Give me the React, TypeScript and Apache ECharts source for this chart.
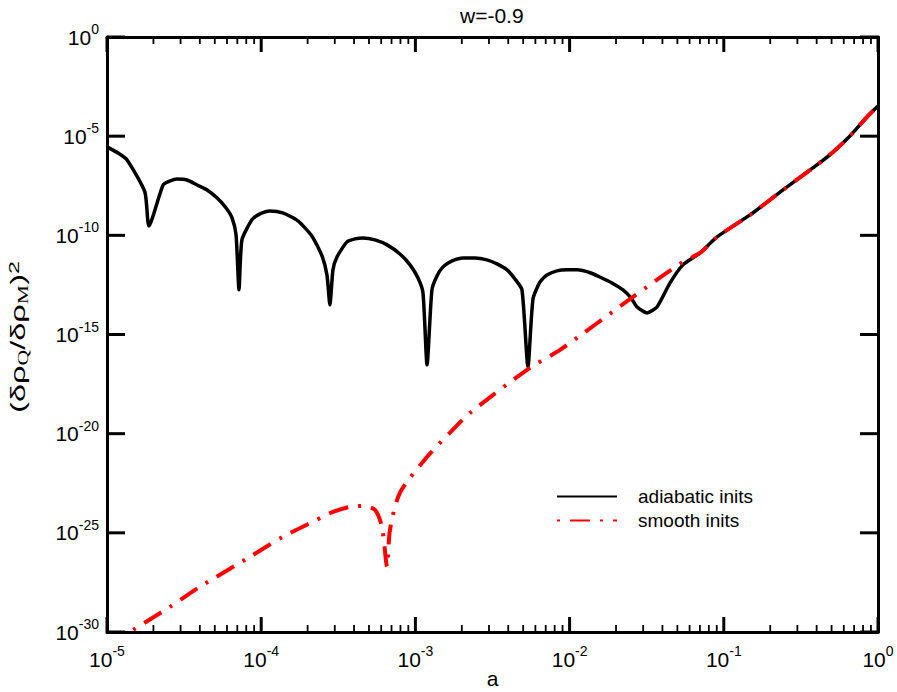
import React, { useEffect, useRef } from 'react';
import * as echarts from 'echarts';

// adiabatic initial conditions: scale factor a and (δρQ/δρM)^2
const adiabaticA = [
  1.0e-5, 1.18e-5, 1.35e-5, 1.76e-5, 1.87e-5, 2.31e-5, 2.56e-5, 2.84e-5, 3.3e-5, 3.84e-5,
  4.46e-5, 5.16e-5, 5.92e-5, 6.47e-5, 6.87e-5, 7.18e-5, 7.5e-5, 8.71e-5, 9.82e-5, 1.14e-4,
  1.38e-4, 1.73e-4, 2.13e-4, 2.48e-4, 2.67e-4, 2.79e-4, 2.92e-4, 3.1e-4, 3.6e-4, 4.06e-4,
  4.57e-4, 5.47e-4, 6.55e-4, 7.94e-4, 9.23e-4, 1.04e-3, 1.12e-3, 1.19e-3, 1.28e-3, 1.38e-3,
  1.51e-3, 1.73e-3, 2.04e-3, 2.44e-3, 2.91e-3, 3.38e-3, 3.93e-3, 4.42e-3, 4.91e-3, 5.37e-3,
  5.79e-3, 6.43e-3, 7.13e-3, 8.28e-3, 9.62e-3, 1.12e-2, 1.36e-2, 1.57e-2, 1.88e-2, 2.22e-2,
  2.5e-2, 2.74e-2, 3.18e-2, 3.69e-2, 4.48e-2, 5.43e-2, 7.01e-2, 9.04e-2, 1.48e-1, 2.42e-1,
  4.02e-1, 5.11e-1, 6.58e-1, 8.49e-1, 1.0,
];
const adiabaticRatio = [
  2.88e-6, 1.41e-6, 6.31e-7, 1.55e-8, 2.95e-10, 3.47e-8, 5.5e-8, 6.92e-8, 6.17e-8, 3.47e-8,
  1.95e-8, 7.76e-9, 2.4e-9, 7.59e-10, 1.05e-10, 1.78e-13, 5.89e-11, 6.03e-10, 1.2e-9, 1.7e-9,
  1.35e-9, 5.37e-10, 9.33e-11, 9.12e-12, 1.0e-12, 3.09e-14, 1.82e-12, 8.13e-12, 4.68e-11, 6.61e-11,
  7.41e-11, 5.89e-11, 3.31e-11, 1.15e-11, 3.24e-12, 7.08e-13, 1.26e-13, 2.95e-17, 1.78e-13, 8.91e-13,
  2.57e-12, 5.13e-12, 7.24e-12, 7.24e-12, 5.75e-12, 3.63e-12, 1.82e-12, 6.31e-13, 1.78e-13, 2.34e-17,
  6.31e-14, 4.47e-13, 1.0e-12, 1.62e-12, 1.82e-12, 1.82e-12, 1.3e-12, 7.94e-13, 3.98e-13, 1.78e-13,
  7.08e-14, 2.45e-14, 1.23e-14, 2.45e-14, 3.98e-13, 3.24e-12, 1.29e-11, 8.32e-11, 1.07e-9, 1.95e-8,
  3.55e-7, 1.58e-6, 1.02e-5, 9.33e-5, 3.31e-4,
];

// smooth initial conditions
const smoothA = [
  1.48e-5, 2.56e-5, 4.01e-5, 8.45e-5, 1.38e-4, 2.3e-4, 2.92e-4, 3.77e-4, 4.57e-4, 5.47e-4,
  6.07e-4, 6.55e-4, 6.84e-4, 7.94e-4, 1.19e-3, 1.67e-3, 2.26e-3, 5.53e-3, 8.67e-3, 2.58e-2,
  5.43e-2, 7.01e-2, 9.04e-2, 1.48e-1, 2.42e-1, 4.02e-1, 5.11e-1, 6.58e-1, 8.49e-1, 1.0,
];
const smoothRatio = [
  1.29e-30, 1.86e-29, 1.91e-28, 6.17e-27, 6.31e-26, 4.57e-25, 1.15e-24, 2.04e-24, 2.29e-24, 1.45e-24,
  2.0e-25, 1.95e-27, 1.41e-25, 1.05e-23, 6.76e-22, 1.1e-20, 1.12e-19, 2.09e-17, 1.66e-16, 7.94e-14,
  4.57e-12, 1.29e-11, 8.32e-11, 1.07e-9, 1.95e-8, 3.55e-7, 1.58e-6, 1.02e-5, 9.33e-5, 3.31e-4,
];

const seriesNames = ['adiabatic inits', 'smooth inits'];
const titleText = 'w=-0.9';
const xName = 'a';
// axis ranges as decades (powers of ten)
const xDecades = [-5, 0];
const yDecades = [-30, 0];
const yDecadeStep = 5;
const minorMultipliers = [2, 3, 4, 5, 6, 7, 8, 9];

const FONT = 'Liberation Sans, Arial, Helvetica, sans-serif';
const SERIF = 'Liberation Serif, Times New Roman, serif';

export default function App() {
  const ref = useRef<HTMLDivElement>(null);

  useEffect(() => {
    if (!ref.current) return;
    const chart = echarts.init(ref.current, null, { renderer: 'svg' });

    const toLog = (xs: number[], ys: number[]) =>
      xs.map((x, i) => [Math.log10(x), Math.log10(ys[i])]);

    // tick marks: [x, y, kind]  kind 0 = x major, 1 = x minor, 2 = y major
    const tickData: number[][] = [];
    for (let e = xDecades[0]; e <= xDecades[1]; e++) {
      tickData.push([e, yDecades[0], 0]);
      if (e < xDecades[1]) {
        for (const m of minorMultipliers) tickData.push([Math.log10(m * Math.pow(10, e)), yDecades[0], 1]);
      }
    }
    for (let e = yDecades[0]; e <= yDecades[1]; e += yDecadeStep) tickData.push([xDecades[0], e, 2]);

    const tickLen = [15, 7, 18];
    const tickWidth = [3, 1.8, 3];

    const powRich = {
      b: { fontSize: 21, fontFamily: FONT, color: '#000', lineHeight: 30, verticalAlign: 'middle' },
      s: { fontSize: 14, fontFamily: FONT, color: '#000', lineHeight: 14, verticalAlign: 'top' },
    };
    const powFmt = (v: number) => `{b|10}{s|${Math.round(v)}}`;

    const frameLine = () => ({ show: true, onZero: false, lineStyle: { color: '#000', width: 3 } });

    const baseX = () => ({
      type: 'value',
      min: xDecades[0],
      max: xDecades[1],
      interval: 1,
      splitLine: { show: false },
      axisLine: frameLine(),
      axisTick: { show: false },
    });
    const baseY = () => ({
      type: 'value',
      min: yDecades[0],
      max: yDecades[1],
      interval: yDecadeStep,
      splitLine: { show: false },
      axisLine: frameLine(),
      axisTick: { show: false },
    });

    const option: any = {
      animation: false,
      backgroundColor: '#fff',
      title: {
        text: titleText,
        left: 455,
        top: 0,
        textStyle: { fontSize: 21, fontWeight: 'normal', fontFamily: FONT, color: '#000' },
      },
      grid: {
        left: 107,
        right: 19,
        top: 37,
        bottom: 60,
        containLabel: false,
        outerBoundsMode: 'none',
      },
      legend: {
        orient: 'vertical',
        left: 551,
        top: 482,
        padding: 5,
        itemWidth: 60,
        itemHeight: 2,
        itemGap: 5,
        itemStyle: { opacity: 0, borderWidth: 0 },
        textStyle: { fontSize: 19, fontFamily: FONT, color: '#000', padding: [0, 0, 0, 16] },
        data: seriesNames,
      },
      graphic: [
        {
          type: 'text',
          x: 18,
          y: 337,
          rotation: Math.PI / 2,
          scaleX: 1.55,
          style: {
            text: '{n|(δρ}{q|Q}{n|/δρ}{q|M}{n|)}{t|2}',
            align: 'center',
            verticalAlign: 'middle',
            rich: {
              n: { fontSize: 21, fontFamily: FONT, fill: '#000', lineHeight: 24, verticalAlign: 'middle' },
              q: { fontSize: 14, fontFamily: SERIF, fill: '#000', lineHeight: 14, verticalAlign: 'bottom' },
              t: { fontSize: 15, fontFamily: FONT, fill: '#000', lineHeight: 15, verticalAlign: 'top' },
            },
          },
        },
      ],
      xAxis: [
        {
          ...baseX(),
          position: 'bottom',
          axisLabel: { margin: 12, formatter: powFmt, rich: powRich },
          name: xName,
          nameLocation: 'middle',
          nameGap: 37,
          nameMoveOverlap: false,
          nameTextStyle: { fontSize: 21, lineHeight: 18, fontFamily: FONT, color: '#000' },
        },
        {
          ...baseX(),
          position: 'top',
          axisLabel: { show: false },
        },
      ],
      yAxis: [
        {
          ...baseY(),
          position: 'left',
          axisLabel: { margin: 8, formatter: powFmt, rich: powRich },
        },
        {
          ...baseY(),
          position: 'right',
          axisLabel: { show: false },
        },
      ],
      series: [
        {
          name: seriesNames[0],
          type: 'line',
          xAxisIndex: 0,
          yAxisIndex: 0,
          data: toLog(adiabaticA, adiabaticRatio),
          showSymbol: false,
          symbol: 'none',
          smooth: 0.2,
          clip: true,
          lineStyle: { color: '#000', width: 3.5 },
          itemStyle: { color: '#000' },
          z: 2,
        },
        {
          name: seriesNames[1],
          type: 'line',
          xAxisIndex: 0,
          yAxisIndex: 0,
          data: toLog(smoothA, smoothRatio),
          showSymbol: false,
          symbol: 'none',
          smooth: 0.25,
          clip: true,
          lineStyle: { color: '#ff0000', width: 4, type: [20, 10, 3, 10], dashOffset: 30, cap: 'butt' },
          itemStyle: { color: '#ff0000' },
          z: 3,
        },
        {
          name: 'ticks',
          type: 'custom',
          coordinateSystem: 'cartesian2d',
          xAxisIndex: 0,
          yAxisIndex: 0,
          clip: false,
          silent: true,
          z: 6,
          data: tickData,
          encode: { x: 0, y: 1 },
          renderItem: (_params: any, api: any) => {
            const kind = api.value(2);
            const len = tickLen[kind];
            const style = { stroke: '#000', lineWidth: tickWidth[kind] };
            if (kind < 2) {
              const x = api.value(0);
              const b = api.coord([x, yDecades[0]]);
              const t = api.coord([x, yDecades[1]]);
              return {
                type: 'group',
                children: [
                  { type: 'line', shape: { x1: b[0], y1: b[1], x2: b[0], y2: b[1] - len }, style },
                  { type: 'line', shape: { x1: t[0], y1: t[1], x2: t[0], y2: t[1] + len }, style },
                ],
              };
            }
            const y = api.value(1);
            const l = api.coord([xDecades[0], y]);
            const r = api.coord([xDecades[1], y]);
            return {
              type: 'group',
              children: [
                { type: 'line', shape: { x1: l[0], y1: l[1], x2: l[0] + len, y2: l[1] }, style },
                { type: 'line', shape: { x1: r[0], y1: r[1], x2: r[0] - len, y2: r[1] }, style },
              ],
            };
          },
        },
      ],
    };

    chart.setOption(option);
    return () => chart.dispose();
  }, []);

  return (
    <div
      ref={ref}
      style={{ position: 'fixed', left: 0, top: 0, width: 897, height: 692, background: '#fff' }}
    />
  );
}
